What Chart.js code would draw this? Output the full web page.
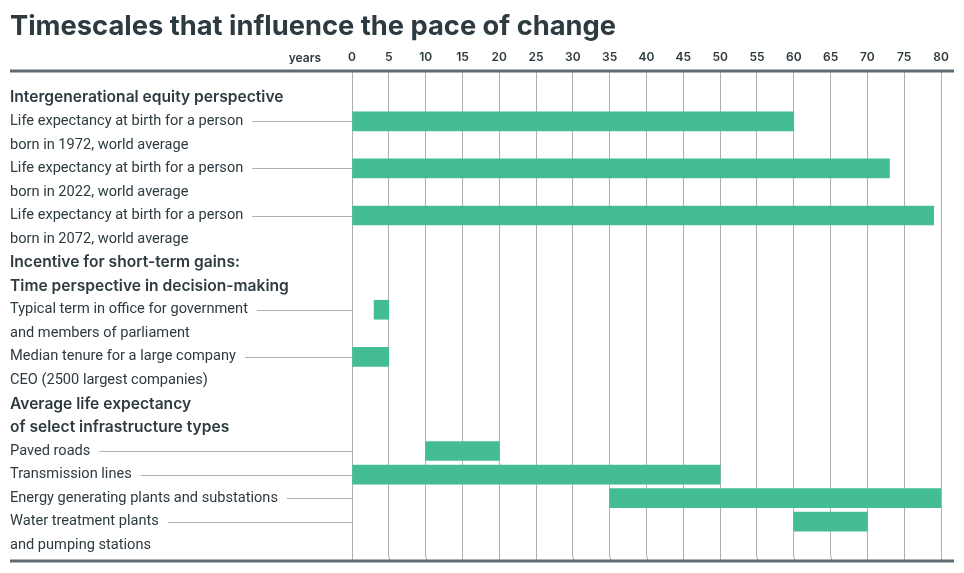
<!DOCTYPE html>
<html>
<head>
<meta charset="utf-8">
<title>Timescales that influence the pace of change</title>
<script src="https://cdn.jsdelivr.net/npm/chart.js@4.4.0/dist/chart.umd.min.js"></script>
<style>
  html, body { margin: 0; padding: 0; background: #fff; }
  #wrap { width: 964px; height: 573px; position: relative; }
</style>
</head>
<body>
<div id="wrap"><canvas id="chart"></canvas></div>
<script>
// one text line of the left column per row, top to bottom
const rowLabels = [
    'Intergenerational equity perspective',
    'Life expectancy at birth for a person',
    'born in 1972, world average',
    'Life expectancy at birth for a person',
    'born in 2022, world average',
    'Life expectancy at birth for a person',
    'born in 2072, world average',
    'Incentive for short-term gains:',
    'Time perspective in decision-making',
    'Typical term in office for government',
    'and members of parliament',
    'Median tenure for a large company',
    'CEO (2500 largest companies)',
    'Average life expectancy',
    'of select infrastructure types',
    'Paved roads',
    'Transmission lines',
    'Energy generating plants and substations',
    'Water treatment plants',
    'and pumping stations'
];
const headerRows = [0, 7, 8, 13, 14];

// bars: start and end in years (null = text-only row)
const startYears = [null, 0, null, 0, null, 0, null, null, null, 3, null, 0, null, null, null, 10, 0, 35, 60, null];
const endYears   = [null, 60, null, 73, null, 79, null, null, null, 5, null, 5, null, null, null, 20, 50, 80, 70, null];

const yearMin = 0;
const yearMax = 80;
const yearStep = 5;

const textColor = '#2d3a40';
const barColor = '#44bd94';
const gridColor = '#aab0b4';
const ruleColor = '#5f6a71';
const bodyFont = { family: 'Roboto', size: 14.6, weight: '400' };
const headFont = { family: 'Inter', size: 15.6, weight: '600' };
const tickFont = { family: 'Inter', size: 12, weight: '600' };

const barData = rowLabels.map((r, i) => startYears[i] === null ? null : [startYears[i], endYears[i]]);

// title, rules, "years", leader lines
const decorations = {
    id: 'decorations',
    beforeDatasetsDraw(chart) {
        const ctx = chart.ctx;
        const x = chart.scales.x;
        const y = chart.scales.y;
        const area = chart.chartArea;
        ctx.save();
        // grid lines run down to the bottom rule
        ctx.strokeStyle = gridColor;
        ctx.lineWidth = 1;
        x.ticks.forEach(t => {
            const px = Math.round(x.getPixelForValue(t.value)) + 0.5;
            ctx.beginPath();
            ctx.moveTo(px, area.bottom);
            ctx.lineTo(px, 561);
            ctx.stroke();
        });
        // leader lines from the labels to the axis
        ctx.font = bodyFont.weight + ' ' + bodyFont.size + 'px ' + bodyFont.family;
        rowLabels.forEach((label, i) => {
            if (startYears[i] === null) return;
            const w = ctx.measureText(label).width;
            const py = Math.round(y.getPixelForTick(i)) + 0.5;
            ctx.beginPath();
            ctx.moveTo(10 + w + 9, py);
            ctx.lineTo(area.left, py);
            ctx.stroke();
        });
        ctx.restore();
    },
    afterDraw(chart) {
        const ctx = chart.ctx;
        const area = chart.chartArea;
        ctx.save();
        ctx.fillStyle = textColor;
        ctx.textBaseline = 'alphabetic';
        ctx.font = '700 27.3px Inter';
        ctx.fillText('Timescales that influence the pace of change', 10, 35);

        ctx.font = tickFont.weight + ' ' + tickFont.size + 'px ' + tickFont.family;
        ctx.textAlign = 'right';
        ctx.textBaseline = 'middle';
        ctx.fillText('years', area.left - 31, 58);

        ctx.strokeStyle = ruleColor;
        ctx.lineWidth = 3;
        [71, 561].forEach(ry => {
            ctx.beginPath();
            ctx.moveTo(10, ry);
            ctx.lineTo(954, ry);
            ctx.stroke();
        });
        ctx.restore();
    }
};

new Chart(document.getElementById('chart'), {
    type: 'bar',
    data: {
        labels: rowLabels,
        datasets: [{
            data: barData,
            backgroundColor: barColor,
            borderWidth: 0,
            borderSkipped: false,
            barThickness: 19
        }]
    },
    options: {
        indexAxis: 'y',
        responsive: true,
        maintainAspectRatio: false,
        animation: false,
        layout: { padding: { top: 0, left: 10, right: 23, bottom: 16 } },
        plugins: {
            legend: { display: false },
            title: { display: false },
            tooltip: { enabled: false }
        },
        scales: {
            x: {
                position: 'top',
                min: yearMin,
                max: yearMax,
                grid: { color: gridColor, lineWidth: 1, tickLength: 14 },
                border: { display: false },
                ticks: {
                    stepSize: yearStep,
                    padding: 7,
                    color: textColor,
                    font: tickFont
                },
                afterFit(scale) { scale.height = 86; }
            },
            y: {
                grid: { display: false },
                border: { display: false },
                ticks: {
                    autoSkip: false,
                    crossAlign: 'far',
                    color: textColor,
                    font: c => headerRows.includes(c.index) ? headFont : bodyFont
                },
                afterFit(scale) { scale.width = 342; }
            }
        }
    },
    plugins: [decorations]
});
</script>
</body>
</html>
